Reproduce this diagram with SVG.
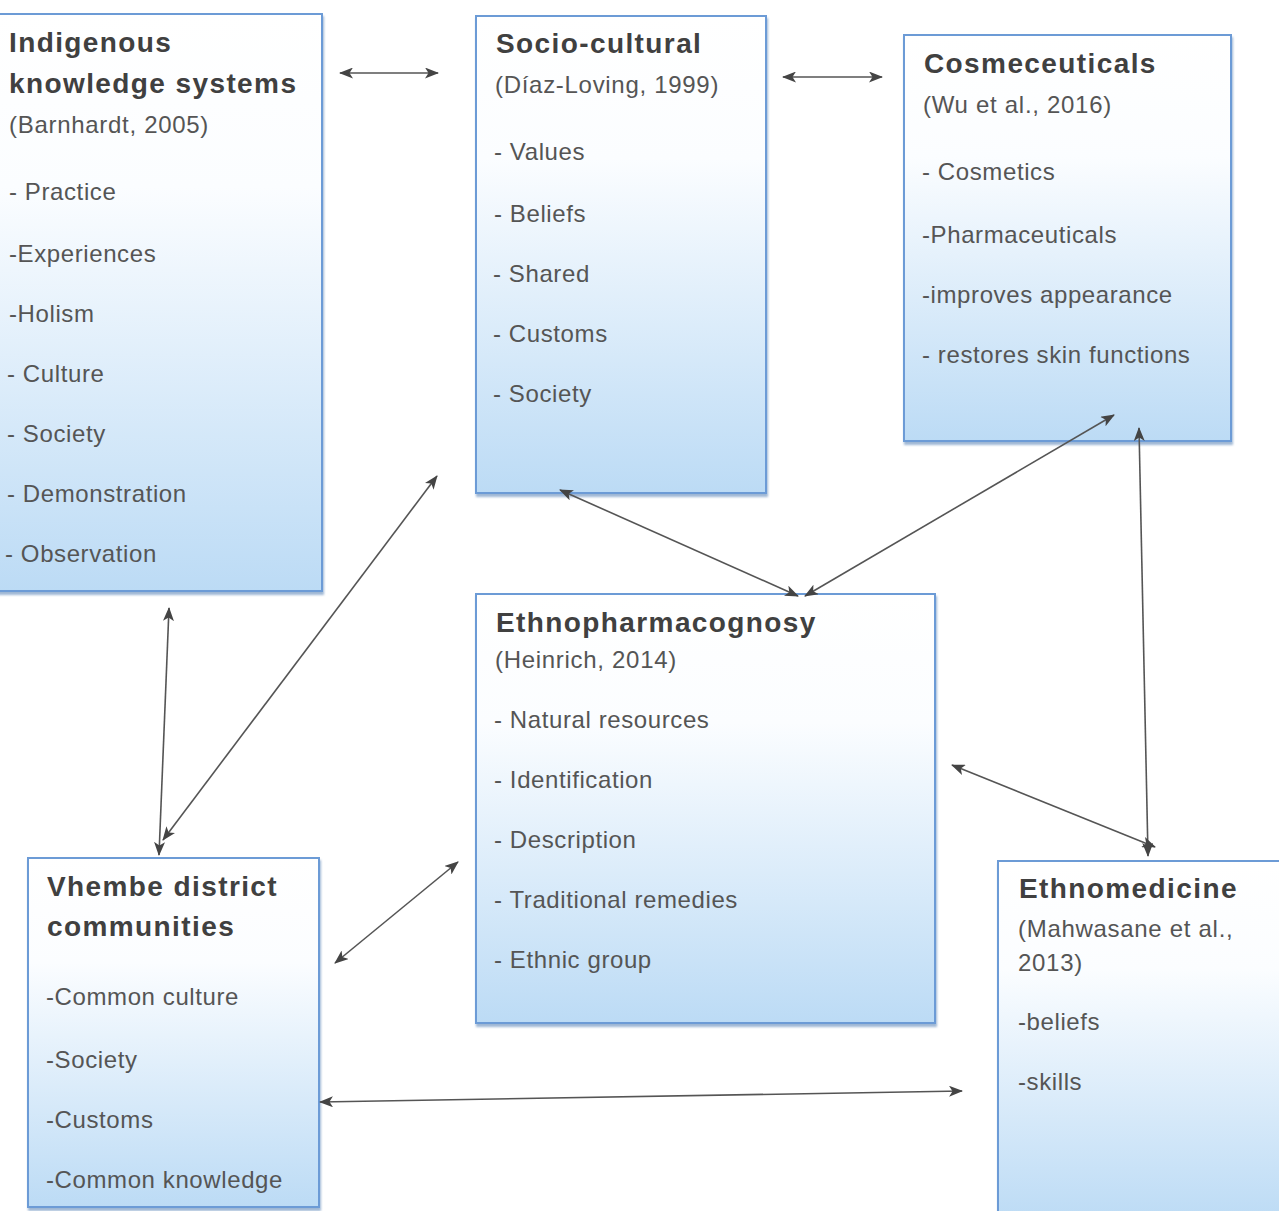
<svg xmlns="http://www.w3.org/2000/svg" width="1279" height="1211" viewBox="0 0 1279 1211">
<defs>
<linearGradient id="g" x1="0" y1="0" x2="0" y2="1">
<stop offset="0" stop-color="#ffffff"/>
<stop offset="0.3" stop-color="#fbfdff"/>
<stop offset="1" stop-color="#bcdbf5"/>
</linearGradient>
<marker id="ah" viewBox="0 0 14 11" refX="13" refY="5.5" markerWidth="14" markerHeight="11" markerUnits="userSpaceOnUse" orient="auto-start-reverse">
<path d="M0,0 L14,5.5 L0,11 L3.5,5.5 Z" fill="#444"/>
</marker>
<filter id="sh" x="-5%" y="-5%" width="110%" height="110%">
<feDropShadow dx="1" dy="3" stdDeviation="1" flood-color="#5f87b8" flood-opacity="0.6"/>
</filter>
</defs>
<style>
.box{fill:url(#g);stroke:#6c9bd6;stroke-width:2;filter:url(#sh)}
.t{font-family:"Liberation Sans",Arial,sans-serif;font-size:28px;fill:#404040;letter-spacing:1.4px;font-weight:bold}
.c{font-family:"Liberation Sans",Arial,sans-serif;font-size:24px;fill:#555;letter-spacing:0.7px}
.b{font-family:"Liberation Sans",Arial,sans-serif;font-size:24px;fill:#555;letter-spacing:0.6px}
.ln{stroke:#555;stroke-width:1.6;fill:none;marker-start:url(#ah);marker-end:url(#ah)}
</style>
<rect width="1279" height="1211" fill="#ffffff"/>

<g id="iks">
<rect class="box" x="-3" y="14" width="325" height="577"/>
<text class="t" x="9" y="52">Indigenous</text>
<text class="t" x="9" y="93">knowledge systems</text>
<text class="c" x="9" y="133">(Barnhardt, 2005)</text>
<text class="b" x="9" y="200">- Practice</text>
<text class="b" x="9" y="262">-Experiences</text>
<text class="b" x="9" y="322">-Holism</text>
<text class="b" x="7" y="382">- Culture</text>
<text class="b" x="7" y="442">- Society</text>
<text class="b" x="7" y="502">- Demonstration</text>
<text class="b" x="5" y="562">- Observation</text>
</g>

<g id="sociocultural">
<rect class="box" x="476" y="16" width="290" height="477"/>
<text class="t" x="496" y="53">Socio-cultural</text>
<text class="c" x="495" y="93">(Díaz-Loving, 1999)</text>
<text class="b" x="494" y="160">- Values</text>
<text class="b" x="494" y="222">- Beliefs</text>
<text class="b" x="493" y="282">- Shared</text>
<text class="b" x="493" y="342">- Customs</text>
<text class="b" x="493" y="402">- Society</text>
</g>

<g id="cosmeceuticals">
<rect class="box" x="904" y="35" width="327" height="406"/>
<text class="t" x="924" y="73">Cosmeceuticals</text>
<text class="c" x="923" y="113">(Wu et al., 2016)</text>
<text class="b" x="922" y="180">- Cosmetics</text>
<text class="b" x="922" y="243">-Pharmaceuticals</text>
<text class="b" x="922" y="303">-improves appearance</text>
<text class="b" x="922" y="363">- restores skin functions</text>
</g>

<g id="ethnopharmacognosy">
<rect class="box" x="476" y="594" width="459" height="429"/>
<text class="t" x="496" y="632">Ethnopharmacognosy</text>
<text class="c" x="495" y="668">(Heinrich, 2014)</text>
<text class="b" x="494" y="728">- Natural resources</text>
<text class="b" x="494" y="788">- Identification</text>
<text class="b" x="494" y="848">- Description</text>
<text class="b" x="494" y="908">- Traditional remedies</text>
<text class="b" x="494" y="968">- Ethnic group</text>
</g>

<g id="vhembe">
<rect class="box" x="28" y="858" width="291" height="349"/>
<text class="t" x="47" y="896">Vhembe district</text>
<text class="t" x="47" y="936">communities</text>
<text class="b" x="46" y="1005">-Common culture</text>
<text class="b" x="46" y="1068">-Society</text>
<text class="b" x="46" y="1128">-Customs</text>
<text class="b" x="46" y="1188">-Common knowledge</text>
</g>

<g id="ethnomedicine">
<rect class="box" x="998" y="861" width="290" height="360"/>
<text class="t" x="1019" y="898">Ethnomedicine</text>
<text class="c" x="1018" y="937">(Mahwasane et al.,</text>
<text class="c" x="1018" y="971">2013)</text>
<text class="b" x="1018" y="1030">-beliefs</text>
<text class="b" x="1018" y="1090">-skills</text>
</g>

<g id="connectors">
<line class="ln" x1="340" y1="73" x2="438" y2="73"/>
<line class="ln" x1="783" y1="77" x2="882" y2="77"/>
<line class="ln" x1="560" y1="490" x2="798" y2="596"/>
<line class="ln" x1="1114" y1="415" x2="805" y2="596"/>
<line class="ln" x1="1139" y1="428" x2="1148" y2="856"/>
<line class="ln" x1="952" y1="765" x2="1155" y2="847"/>
<line class="ln" x1="169" y1="608" x2="159" y2="855"/>
<line class="ln" x1="437" y1="476" x2="163" y2="840"/>
<line class="ln" x1="335" y1="963" x2="458" y2="862"/>
<line class="ln" x1="320" y1="1102" x2="962" y2="1091"/>
</g>
</svg>
